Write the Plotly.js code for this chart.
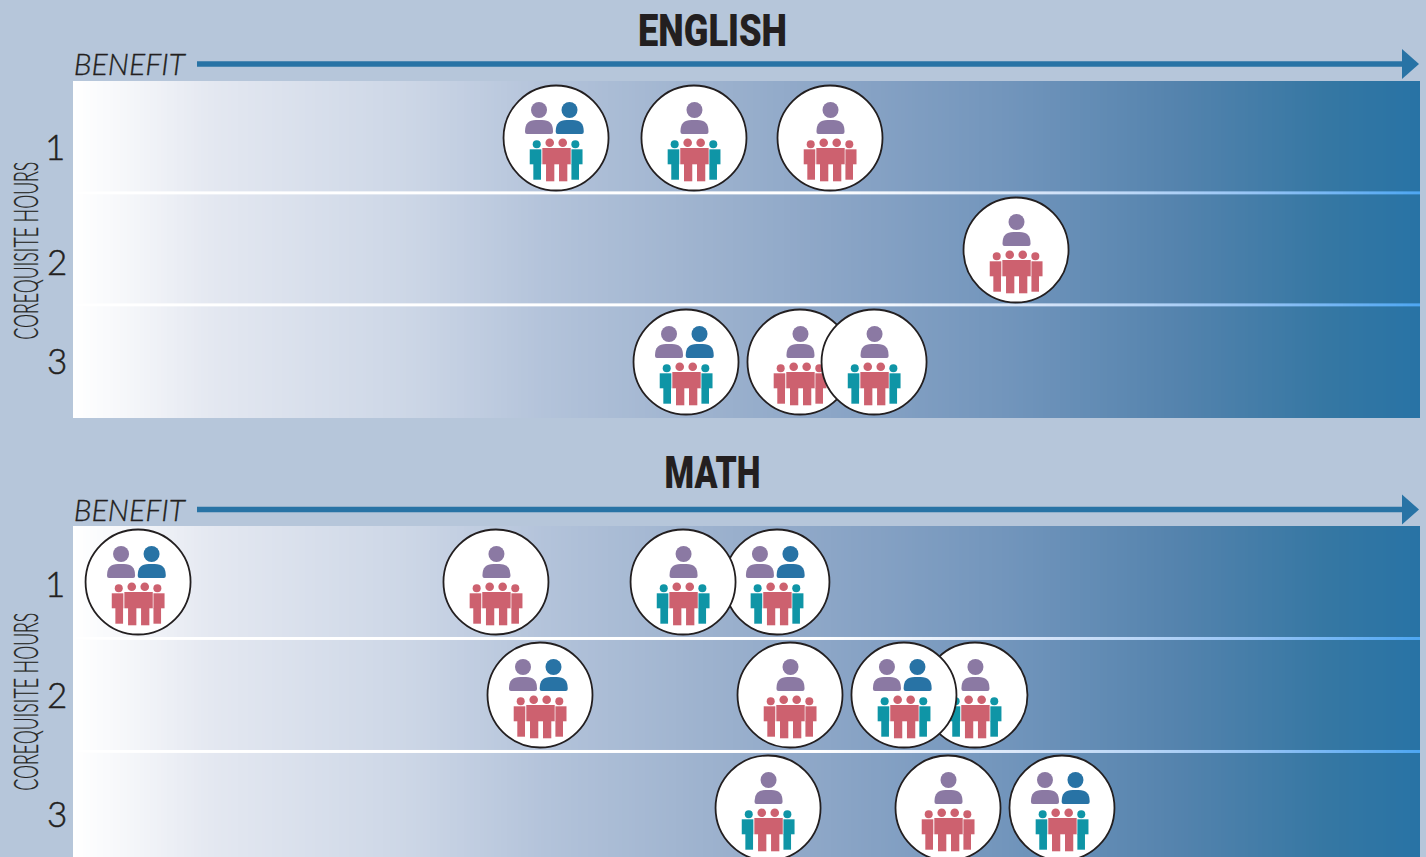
<!DOCTYPE html>
<html>
<head>
<meta charset="utf-8">
<script src="https://cdn.plot.ly/plotly-3.0.1.min.js"></script>
<style>html,body{margin:0;padding:0;background:#b6c6da;overflow:hidden}#chart{width:1426px;height:857px}</style>
</head>
<body>
<div id="chart"></div>
<script>
// ---- data (benefit on a 0-100 scale, hours = row) ----
const englishBenefit = [35.86, 46.10, 56.20, 70.01, 45.51, 53.97, 59.47];
const englishHours   = [1, 1, 1, 2, 3, 3, 3];
const englishStaff   = [2, 1, 1, 1, 2, 1, 1];   // 2 = purple + blue figure, 1 = purple only
const englishGroups  = [2, 2, 1, 1, 2, 1, 2];   // 2 = teal + red students, 1 = red only

const mathBenefit = [52.26, 45.29, 4.83, 31.40, 66.96, 34.67, 53.23, 61.69, 51.60, 64.96, 73.42];
const mathHours   = [1, 1, 1, 1, 2, 2, 2, 2, 3, 3, 3];
const mathStaff   = [2, 1, 2, 1, 1, 2, 1, 2, 1, 1, 2];
const mathGroups  = [2, 2, 1, 1, 2, 1, 1, 2, 2, 1, 2];

const hourLabels = ['1', '2', '3'];
const panelTitles = ['ENGLISH', 'MATH'];
const benefitLabel = 'BENEFIT';
const hoursLabel = 'COREQUISITE HOURS';

// ---- styles ----
const W = 1426, H = 857;
const PURPLE = '#8b79a3', BLUE = '#2873a5', RED = '#cd616f', TEAL = '#0f95a6', INK = '#231f20';
const BG = '#b6c6da';
const gradient = [[0,'#ffffff'],[0.05,'#f2f4f8'],[0.1,'#e4e8f1'],[0.25,'#ccd6e6'],[0.35,'#b3c3da'],
  [0.47,'#9db2ce'],[0.58,'#88a3c5'],[0.7,'#7094bb'],[0.82,'#5483ad'],[0.93,'#3577a3'],[1,'#2873a5']];
const lineGrad = [[0,'#ffffff'],[0.55,'#ffffff'],[0.72,'#d5e4f8'],[0.88,'#94c3f5'],[1,'#4da6f2']];
const px = x => x / W, py = y => 1 - y / H;

const ramp = [], rampEdges = [];
for (let i = 0; i <= 400; i++) { rampEdges.push(i / 4); if (i < 400) ramp.push(i / 4); }

const traces = [], shapes = [], annotations = [];

function background(xa, ya, yMax, linesAt) {
  traces.push({type:'heatmap', x:rampEdges, y:[0.4, yMax], z:[ramp], zmin:0, zmax:100, colorscale:gradient,
    showscale:false, hoverinfo:'skip', xaxis:xa, yaxis:ya});
  linesAt.forEach(r => traces.push({type:'heatmap', x:rampEdges, y:[r - 0.0135, r + 0.0135], z:[ramp], zmin:0, zmax:100,
    colorscale:lineGrad, showscale:false, hoverinfo:'skip', xaxis:xa, yaxis:ya}));
}

function addIcon(xr, yr, x, y, staff, groups) {
  const base = {xref:xr, yref:yr, xsizemode:'pixel', ysizemode:'pixel', xanchor:x, yanchor:y, layer:'above'};
  const disc = (cx, cy, r, color) => shapes.push(Object.assign({}, base, {type:'circle', x0:cx - r, x1:cx + r, y0:-(cy - r), y1:-(cy + r),
    fillcolor:color, line:{width:0}}));
  const box = (l, r, t, b, color) => shapes.push(Object.assign({}, base, {type:'rect', x0:l, x1:r, y0:-t, y1:-b,
    fillcolor:color, line:{width:0}}));
  const bust = (l, r, t, b, color) => {
    const k = 11, c = 2;
    shapes.push(Object.assign({}, base, {type:'path', fillcolor:color, line:{width:0},
      path:`M${l},${-(b - c)} L${l},${-(t + k)} Q${l},${-t} ${l + k},${-t} L${r - k},${-t} Q${r},${-t} ${r},${-(t + k)} L${r},${-(b - c)} Q${r},${-b} ${r - c},${-b} L${l + c},${-b} Q${l},${-b} ${l},${-(b - c)} Z`}));
  };
  // circle
  shapes.push(Object.assign({}, base, {type:'circle', x0:-52.5, x1:52.5, y0:-52.5, y1:52.5, fillcolor:'#ffffff', line:{color:INK, width:1.8}}));
  // staff
  if (staff === 2) {
    disc(-17, -28, 8, PURPLE); bust(-31, -3, -18, -4, PURPLE);
    disc(13.5, -28, 8, BLUE);  bust(-0.3, 27.7, -18, -4, BLUE);
  } else {
    disc(0.5, -28, 8, PURPLE); bust(-13.5, 14.5, -18, -4, PURPLE);
  }
  // students
  const side = groups === 2 ? TEAL : RED;
  disc(-19.3, 6.3, 4, side); box(-26.3, -14.7, 11.3, 26.3, side); box(-22.7, -15, 26, 41.7, side);
  disc(19.3, 6.3, 4, side);  box(15.4, 26.5, 11.3, 26.3, side);  box(15.4, 23, 26, 41.7, side);
  disc(-6.3, 4.7, 4.3, RED); disc(6.7, 4.7, 4.3, RED);
  box(-13.7, 14.7, 10, 26.3, RED);
  box(-10, -1.7, 26, 43.3, RED); box(3, 11.3, 26, 43.3, RED);
}

function panel(xr, yr, xa, ya, xs, ys, staff, groups, yMax, linesAt, labelYs, titleIdx, titleY, benefitY, hoursY) {
  background(xa, ya, yMax, linesAt);
  traces.push({type:'scatter', mode:'markers', x:xs, y:ys, xaxis:xa, yaxis:ya, hovertemplate:'benefit %{x}<br>hours %{y}<extra></extra>',
    marker:{size:103, color:'#ffffff', line:{width:0}}, showlegend:false});
  xs.forEach((x, i) => addIcon(xr, yr, x, ys[i], staff[i], groups[i]));
  // arrow
  shapes.push({type:'rect', xref:'paper', yref:'paper', x0:px(197), x1:px(1403), y0:py(benefitY - 2.7), y1:py(benefitY + 2.7), fillcolor:BLUE, line:{width:0}});
  shapes.push({type:'path', xref:'paper', yref:'paper', path:`M${px(1402)},${py(benefitY - 15)} L${px(1419)},${py(benefitY)} L${px(1402)},${py(benefitY + 15)} Z`, fillcolor:BLUE, line:{width:0}});
  // text
  annotations.push({xref:'paper', yref:'paper', x:px(712.5), y:py(titleY + 1), text:panelTitles[titleIdx], showarrow:false, xanchor:'center', yanchor:'middle',
    font:{family:'Roboto', size:44, weight:900, color:INK}, _len: titleIdx === 0 ? 149 : 96});
  annotations.push({xref:'paper', yref:'paper', x:px(129.5), y:py(benefitY - 0.5), text:benefitLabel, showarrow:false, xanchor:'center', yanchor:'middle',
    font:{family:'Lato', size:29, weight:300, style:'italic', color:INK}, _len:111, _thick:0.3});
  annotations.push({xref:'paper', yref:'paper', x:px(24.5), y:py(hoursY), text:hoursLabel, showarrow:false, textangle:-90, xanchor:'center', yanchor:'middle',
    font:{family:'Lato', size:33, weight:300, color:INK}, _len:178, _thick:0.3});
  hourLabels.forEach((t, i) => annotations.push({xref:'paper', yref:'paper', x:px(i ? 57 : 55), y:py(labelYs[i] - 1), text:t, showarrow:false, xanchor:'center', yanchor:'middle',
    font:{family:'Lato', size:35, weight:300, color:INK}, _thick:0.5}));
}

panel('x', 'y', 'x', 'y', englishBenefit, englishHours, englishStaff, englishGroups, 3.6, [1.49, 2.49], [147, 262, 361], 0, 30, 64, 251);
panel('x2', 'y2', 'x2', 'y2', mathBenefit, mathHours, mathStaff, mathGroups, 3.6, [1.5, 2.5], [584, 695, 814], 1, 472, 509.5, 702);

const lens = annotations.map(a => a._len);
const thick = annotations.map(a => a._thick);
annotations.forEach(a => { delete a._len; delete a._thick; });

const hiddenAxis = {showgrid:false, zeroline:false, showticklabels:false, ticks:'', showline:false, fixedrange:true};
const layout = {
  width:W, height:H, margin:{l:0, r:0, t:0, b:0, pad:0}, autosize:false,
  paper_bgcolor:BG, plot_bgcolor:BG, showlegend:false, hovermode:'closest',
  xaxis: Object.assign({}, hiddenAxis, {domain:[px(73), px(1420)], range:[0, 100], anchor:'y'}),
  yaxis: Object.assign({}, hiddenAxis, {domain:[py(418), py(81)], range:[3.5, 0.491], anchor:'x'}),
  xaxis2:Object.assign({}, hiddenAxis, {domain:[px(73), px(1420)], range:[0, 100], anchor:'y2'}),
  yaxis2:Object.assign({}, hiddenAxis, {domain:[0, py(526)], range:[0.5044 + 331 / 113, 0.5044], anchor:'x2'}),
  shapes, annotations
};
Plotly.newPlot('chart', traces, layout, {displayModeBar:false, responsive:false}).then(gd => {
  gd.querySelectorAll('.annotation-text').forEach((el, i) => {
    if (lens[i]) { el.setAttribute('textLength', lens[i]); el.setAttribute('lengthAdjust', 'spacingAndGlyphs'); }
    if (thick[i]) { el.style.stroke = INK; el.style.strokeWidth = thick[i] + 'px'; }
  });
});
</script>
</body>
</html>
